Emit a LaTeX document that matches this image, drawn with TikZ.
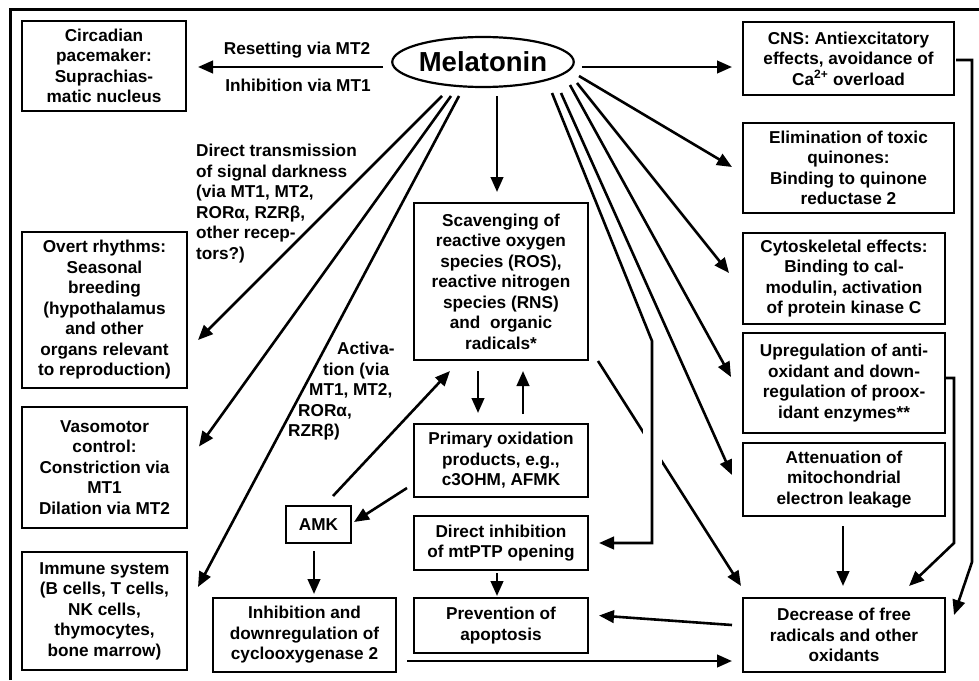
\documentclass[tikz,border=0pt]{standalone}
\usepackage{fontspec}
\setmainfont{Liberation Sans}
\usetikzlibrary{arrows.meta,shapes.geometric,calc}
\newcommand\labfont{\fontsize{17.2}{20.5}\selectfont\bfseries}
\newcommand\melfont{\fontsize{27.5}{30}\selectfont\bfseries}
\begin{document}
\begin{tikzpicture}[x=1pt,y=-1pt,
  box/.style={draw, line width=2pt, align=center, inner sep=0pt, font=\labfont},
  lab/.style={align=left, inner sep=0pt, font=\labfont},
  labc/.style={align=center, inner sep=0pt, font=\labfont},
  con/.style={line width=2.6pt},
  arr/.style={con, -{Triangle[length=15pt,width=12.5pt]}},
  gap/.style={white, line width=19pt},
]
\useasboundingbox (0,0) rectangle (979,680);
% frame (top and left edges visible)
\draw[line width=3pt] (10.5,680) -- (10.5,9.5) -- (979,9.5);

% nodes
\node[draw, ellipse, line width=2.2pt, minimum width=176pt, minimum height=50pt, inner sep=0pt, font=\melfont] (mel) at (483,62) {Melatonin};

\node[box, minimum width=164pt, minimum height=90pt] (circ) at (104,66) {Circadian\\pacemaker:\\Suprachias-\\matic nucleus};
\node[box, minimum width=165pt, minimum height=156pt] (overt) at (104.5,310) {Overt rhythms:\\Seasonal\\breeding\\(hypothalamus\\and other\\organs relevant\\to reproduction)};
\node[box, minimum width=165pt, minimum height=121pt] (vaso) at (104.5,467.5) {Vasomotor\\control:\\Constriction via\\MT1\\Dilation via MT2};
\node[box, minimum width=165pt, minimum height=118pt] (immune) at (104.5,611) {Immune system\\(B cells, T cells,\\NK cells,\\thymocytes,\\bone marrow)};

\node[box, minimum width=211pt, minimum height=73pt] (cns) at (848.5,58.5) {CNS: Antiexcitatory\\effects, avoidance of\\Ca\textsuperscript{2+} overload};
\node[box, minimum width=211pt, minimum height=90pt] (elim) at (848.5,168) {Elimination of toxic\\quinones:\\Binding to quinone\\reductase 2};
\node[box, minimum width=202pt, minimum height=91pt] (cyto) at (844,278.5) {Cytoskeletal effects:\\Binding to cal-\\modulin, activation\\of protein kinase C};
\node[box, minimum width=202pt, minimum height=100pt] (upreg) at (844,383) {Upregulation of anti-\\oxidant and down-\\regulation of proox-\\idant enzymes**};
\node[box, minimum width=202pt, minimum height=73pt] (atten) at (844,479.5) {Attenuation of\\mitochondrial\\electron leakage};
\node[box, minimum width=202pt, minimum height=74pt] (decr) at (844,635) {Decrease of free\\radicals and other\\oxidants};

\node[box, minimum width=174pt, minimum height=157pt] (scav) at (501,281.5) {Scavenging of\\reactive oxygen\\species (ROS),\\reactive nitrogen\\species (RNS)\\and\ \ organic\\radicals*};
\node[box, minimum width=174pt, minimum height=73pt] (prim) at (501,460.5) {Primary oxidation\\products, e.g.,\\c3OHM, AFMK};
\node[box, minimum width=174pt, minimum height=54pt] (direct) at (501,543) {Direct inhibition\\of mtPTP opening};
\node[box, minimum width=174pt, minimum height=55pt] (prev) at (501,625.5) {Prevention of\\apoptosis};
\node[box, minimum width=65pt, minimum height=37pt] (amk) at (318.5,524.5) {AMK};
\node[box, minimum width=183pt, minimum height=74pt] (cox) at (304.5,635) {Inhibition and\\downregulation of\\cyclooxygenase 2};

% labels
\node[labc] (lres) at (297,50) {Resetting via MT2};
\node[labc] (linh) at (298,85) {Inhibition via MT1};
\node[lab, anchor=north west] (ldir) at (196,144) {Direct transmission\\of signal darkness\\(via MT1, MT2,\\RORα, RZRβ,\\other recep-\\tors?)};
\node[lab, anchor=north west] (lact) at (288,342) {\hspace*{49pt}Activa-\\\hspace*{35pt}tion (via\\\hspace*{21pt}MT1, MT2,\\\hspace*{10pt}RORα,\\RZRβ)};

% start points on the ellipse
\coordinate (mA) at (442,96);
\coordinate (mB) at (451,96);
\coordinate (mC) at (459,96);
\coordinate (r1) at (552,93);
\coordinate (r2) at (561,93);
\coordinate (r3) at (570,85);
\coordinate (r4) at (577,83);
\coordinate (r5) at (579,76);
\coordinate (bend) at (652,341);

% connectors from melatonin
\draw[arr, shorten <=8pt, shorten >=11pt] ([yshift=-5pt]mel.west) -- ([yshift=-5pt]mel.west -| circ.east);
\draw[arr, shorten <=7pt, shorten >=10pt] ([yshift=-5pt]mel.east) -- ([yshift=-5pt]mel.east -| cns.west);
\draw[arr, shorten <=8pt, shorten >=10pt] ($(mel.south)+(14,0)$) -- ($(scav.north)+(-4,0)$);
\draw[arr] (mA) -- ($(overt.east)+(10,30)$);
\draw[arr] (mB) -- ($(vaso.east)+(11,-21)$);
\draw[arr] (mC) -- ($(immune.east)+(10,-24)$);
\draw[arr] (r5) -- ($(elim.west)+(-10,-1)$);
\draw[arr] (r4) -- ($(cyto.west)+(-13,-5.5)$);
\draw[arr] (r3) -- ($(upreg.west)+(-11,-6)$);
\draw[arr] (r2) -- ($(atten.west)+(-10,-4.5)$);

% scavenging -> decrease (passes under the vertical line)
\draw[arr] ($(scav.south east)+(9,0)$) -- ($(decr.north west)+(-1,-11)$);
\draw[gap] (652,428) -- (652,466);
\draw[arr] (r1) -- (bend) -- (bend |- direct.east) -- ($(direct.east)+(10,0)$);

% other connectors
\draw[arr] ($(scav.south)+(-23,10)$) -- ($(prim.north)+(-23,-10)$);
\draw[arr] ($(prim.north)+(22,-9)$) -- ($(scav.south)+(22,10)$);
\draw[arr] ($(prim.west)+(-6,27.5)$) -- ($(amk.east)+(2,-2.5)$);
\draw[arr] ($(amk.north)+(14.5,-9)$) -- ($(scav.south)+(-51,10)$);
\draw[arr] ($(amk.south)+(-4.5,7)$) -- ($(cox.north)+(9.5,-3)$);
\draw[arr] ($(direct.south)+(-4,2)$) -- ($(prev.north)+(-4,-1)$);
\draw[arr] ($(cox.east)+(10,26)$) -- ($(decr.west)+(-10,26)$);
\draw[arr] ($(decr.west)+(-10,-10)$) -- ($(prev.east)+(10,-10)$);
\draw[arr] ($(atten.south)+(-1,9)$) -- ($(decr.north)+(-1,-11)$);
\draw[arr] ($(upreg.east)+(0,-5)$) -- (954,378) -- (954,543) -- ($(decr.north east)+(-37,-11)$);
\draw[arr] ($(cns.east)+(1,1.5)$) -- (972,60) -- (972,562) -- ($(decr.east)+(8,-20)$);
\end{tikzpicture}
\end{document}
